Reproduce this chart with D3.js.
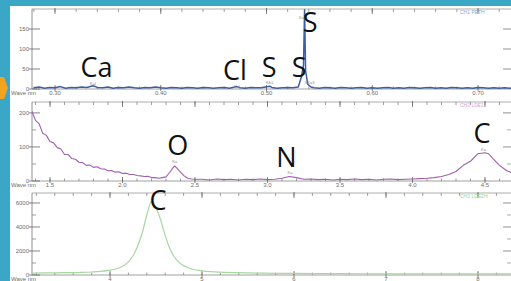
<!DOCTYPE html>
<html lang="en">
<head>
<meta charset="UTF-8">
<title>Spectra</title>
<style>
  body { margin: 0; background: #fff; }
  svg { display: block; font-family: "Liberation Sans", Arial, sans-serif; }
  .tick-label { font-size: 6px; fill: #6e6e6e; }
  .elem { font-family: "Open Sans", sans-serif; font-size: 27px; fill: #111; }
  .line-label { font-size: 4px; fill: #8a8a8a; }
  .chan { font-size: 5px; }
</style>
</head>
<body>
<svg id="chart"></svg>
<script src="https://d3js.org/d3.v7.min.js"></script>
<script>
// --- Channel 1 (PETH) ---
var wave1 = [0.280,0.285,0.290,0.295,0.300,0.305,0.310,0.315,0.320,0.325,
             0.330,0.336,0.340,0.345,0.350,0.355,0.360,0.365,0.370,0.375,
             0.380,0.385,0.390,0.395,0.400,0.405,0.410,0.415,0.420,0.425,
             0.430,0.435,0.440,0.445,0.450,0.455,0.460,0.465,0.472,0.475,
             0.480,0.485,0.490,0.495,0.503,0.505,0.510,0.515,0.520,0.525,
             0.530,0.533,0.535,0.536,0.537,0.539,0.542,0.545,0.550,0.555,
             0.560,0.565,0.570,0.575,0.580,0.585,0.590,0.595,0.600,0.605,
             0.610,0.615,0.620,0.625,0.630,0.635,0.640,0.645,0.650,0.655,
             0.660,0.665,0.670,0.675,0.680,0.685,0.690,0.695,0.700,0.705,
             0.710,0.715,0.720,0.725,0.730,0.735];
var counts1 = [3,5,2,4,3,6,2,4,3,5,
               4,8,4,3,5,2,4,3,5,3,
               2,4,3,5,3,2,4,3,2,4,
               3,2,4,3,2,3,4,2,6,3,
               2,4,3,3,7,4,2,3,4,3,
               5,30,60,198,45,12,5,3,2,4,
               3,2,4,3,2,3,4,2,3,2,
               3,4,2,3,2,4,3,2,3,4,
               2,3,2,4,3,2,3,2,4,3,
               2,3,2,3,2,3];
var xTicks1 = [0.30, 0.40, 0.50, 0.60, 0.70];
var xLabels1 = ["0.30", "0.40", "0.50", "0.60", "0.70"];
var yTicks1 = [0, 50, 100, 150];
var elems1 = ["Ca", "Cl", "S", "S", "S"];
var elemWave1 = [0.336, 0.472, 0.503, 0.536, 0.536];
var lines1 = ["KaI", "KaI", "Kb1", "SKa3", "Ka"];

// --- Channel 2 (LDE1) ---
var wave2 = [1.375,1.400,1.425,1.450,1.475,1.500,1.525,1.550,1.575,1.600,
             1.625,1.650,1.675,1.700,1.725,1.750,1.775,1.800,1.825,1.850,
             1.875,1.900,1.925,1.950,1.975,2.000,2.025,2.050,2.075,2.100,
             2.125,2.150,2.175,2.200,2.225,2.250,2.275,2.300,2.325,2.350,
             2.360,2.375,2.400,2.425,2.450,2.475,2.500,
             2.55,2.60,2.65,2.70,2.75,2.80,2.85,2.90,2.95,3.00,
             3.05,3.10,3.15,3.20,3.25,3.30,3.35,3.40,3.45,3.50,
             3.55,3.60,3.65,3.70,3.75,3.80,3.85,3.90,3.95,4.00,
             4.05,4.10,4.15,4.20,4.25,4.30,4.35,4.40,4.45,4.50,
             4.525,4.55,4.60,4.65,4.70];
var counts2 = [205,178,168,140,134,116,112,98,94,78,
               78,66,64,55,54,46,47,40,42,36,
               35,30,31,26,27,22,23,19,19,16,
               15,13,14,10,10,8,10,12,25,40,
               44,38,26,15,8,6,5,
               5,3,6,4,5,3,5,4,6,4,
               5,8,13,10,5,6,4,5,3,5,
               4,6,4,5,3,5,6,4,5,6,
               7,8,10,13,19,28,46,58,80,83,
               80,68,46,30,22];
var xTicks2 = [1.5, 2.0, 2.5, 3.0, 3.5, 4.0, 4.5];
var xLabels2 = ["1.5", "2.0", "2.5", "3.0", "3.5", "4.0", "4.5"];
var yTicks2 = [0, 100, 200];
var elems2 = ["O", "N", "C"];
var elemWave2 = [2.36, 3.155, 4.49];
var lines2 = ["Ka", "Ka", "Ka"];

// --- Channel 3 (LDE2H) ---
var wave3 = [3.15,3.30,3.50,3.70,3.80,3.90,4.00,4.05,4.10,4.15,
             4.20,4.25,4.30,4.35,4.40,4.45,4.50,4.55,4.60,4.65,
             4.70,4.75,4.80,4.85,4.90,5.00,5.10,5.20,5.40,5.60,
             5.80,6.00,6.50,7.00,7.50,8.00,8.40];
var counts3 = [150,170,190,220,250,300,400,480,600,800,
               1100,1600,2400,3500,5000,6100,5600,4600,3300,2200,
               1500,1050,780,600,480,350,280,240,190,160,
               140,130,110,100,95,90,90];
var xTicks3 = [4, 5, 6, 7, 8];
var xLabels3 = ["4", "5", "6", "7", "8"];
var yTicks3 = [0, 2000, 4000, 6000];
var elems3 = ["C"];
var elemWave3 = [4.45];
var lines3 = [""];

var width = 511, height = 281;
var left = 32, right = 511;

var svg = d3.select("#chart").attr("width", width).attr("height", height);

// slide background
svg.append("rect").attr("width", width).attr("height", height).attr("fill", "#3ba7c6");
svg.append("rect").attr("x", 10).attr("y", 6).attr("width", width - 10).attr("height", height - 6).attr("fill", "#fff");
svg.append("path").attr("d", "M0,77 L4,77 L8,88 L4,99 L0,99 Z").attr("fill", "#f2a31f");

var panels = [
    { top: 9, bottom: 89, xd: [0.30, 0.70], xr: [55, 478], ymax: 200,
      wave: wave1, counts: counts1, xTicks: xTicks1, xLabels: xLabels1, yTicks: yTicks1, yMinor: [],
      minorStep: 0.02, minorFrom: 0.28, minorTo: 0.73,
      color: "#3f5e9e", sw: 1.5, curve: d3.curveLinear,
      chan: "CH1 PETH", chanColor: "#8ea6cc",
      elems: elems1, elemWave: elemWave1, lines: lines1,
      // [elem dx, elem baseline, line-label dx, line-label baseline]
      layout: [[3.5, 77, 0, 85], [-2, 80, 0, 88], [-0.5, 77, 0, 84], [-5.5, 77, 5, 84], [5.5, 32, -3, 19]] },
    { top: 102, bottom: 181, xd: [1.5, 4.5], xr: [50, 485], ymax: 232,
      wave: wave2, counts: counts2, xTicks: xTicks2, xLabels: xLabels2, yTicks: yTicks2, yMinor: [50, 150],
      minorStep: 0.1, minorFrom: 1.4, minorTo: 4.65,
      color: "#a15fae", sw: 1.1, curve: d3.curveLinear,
      chan: "CH2 LDE1", chanColor: "#d9a2d9",
      elems: elems2, elemWave: elemWave2, lines: lines2,
      layout: [[3, 155, 0, 163], [-3.5, 167, 0, 174], [-1.5, 143, 0, 151]] },
    { top: 193, bottom: 275, xd: [4, 8], xr: [110, 478], ymax: 6833,
      wave: wave3, counts: counts3, xTicks: xTicks3, xLabels: xLabels3, yTicks: yTicks3, yMinor: [1000, 3000, 5000],
      minorStep: 0.2, minorFrom: 3.2, minorTo: 8.35,
      color: "#a6d8a0", sw: 1.2, curve: d3.curveMonotoneX,
      chan: "CH3 LDE2H", chanColor: "#98d695",
      elems: elems3, elemWave: elemWave3, lines: lines3,
      layout: [[6.5, 210, 0, 0]] }
];

panels.forEach(function (p, i) {
    var x = d3.scaleLinear().domain(p.xd).range(p.xr);
    var y = d3.scaleLinear().domain([0, p.ymax]).range([p.bottom, p.top]);
    var g = svg.append("g");

    svg.append("clipPath").attr("id", "clip" + i)
        .append("rect").attr("x", left).attr("y", p.top - 2)
        .attr("width", right - left).attr("height", p.bottom - p.top + 3);

    // frame
    g.append("line").attr("x1", left).attr("x2", right).attr("y1", p.top).attr("y2", p.top)
        .attr("stroke", "#9a9a9a").attr("stroke-width", 0.8);
    g.append("line").attr("x1", left).attr("x2", left).attr("y1", p.top).attr("y2", p.bottom)
        .attr("stroke", "#777").attr("stroke-width", 0.8);
    g.append("line").attr("x1", left).attr("x2", right).attr("y1", p.bottom).attr("y2", p.bottom)
        .attr("stroke", "#888").attr("stroke-width", 0.8);

    // x ticks on top and bottom
    var minor = d3.range(p.minorFrom, p.minorTo, p.minorStep);
    minor.forEach(function (v) {
        var px = x(v);
        if (px < left + 1 || px > right) return;
        g.append("line").attr("x1", px).attr("x2", px).attr("y1", p.top).attr("y2", p.top + 3)
            .attr("stroke", "#777").attr("stroke-width", 0.7);
        g.append("line").attr("x1", px).attr("x2", px).attr("y1", p.bottom).attr("y2", p.bottom - 2.5)
            .attr("stroke", "#777").attr("stroke-width", 0.7);
    });
    p.xTicks.forEach(function (v, k) {
        var px = x(v);
        g.append("line").attr("x1", px).attr("x2", px).attr("y1", p.top - 1).attr("y2", p.top + 5)
            .attr("stroke", "#666").attr("stroke-width", 0.8);
        g.append("line").attr("x1", px).attr("x2", px).attr("y1", p.bottom + 2).attr("y2", p.bottom - 4)
            .attr("stroke", "#666").attr("stroke-width", 0.8);
        g.append("text").attr("class", "tick-label").attr("x", px).attr("y", p.bottom + 6)
            .attr("text-anchor", "middle").text(p.xLabels[k]);
    });
    g.append("text").attr("class", "tick-label").attr("x", 11).attr("y", p.bottom + 6).text("Wave nm");

    // y ticks
    p.yTicks.forEach(function (v) {
        var py = y(v);
        g.append("line").attr("x1", left - 3).attr("x2", left + 8).attr("y1", py).attr("y2", py)
            .attr("stroke", "#666").attr("stroke-width", 0.8);
        if (v > 0) {
            g.append("line").attr("x1", right - 8).attr("x2", right).attr("y1", py).attr("y2", py)
                .attr("stroke", "#777").attr("stroke-width", 0.8);
        }
        g.append("text").attr("class", "tick-label").attr("x", left - 3).attr("y", py + 2)
            .attr("text-anchor", "end").text(v);
    });
    p.yMinor.forEach(function (v) {
        var py = y(v);
        g.append("line").attr("x1", left).attr("x2", left + 4).attr("y1", py).attr("y2", py)
            .attr("stroke", "#777").attr("stroke-width", 0.7);
        g.append("line").attr("x1", right - 4).attr("x2", right).attr("y1", py).attr("y2", py)
            .attr("stroke", "#888").attr("stroke-width", 0.7);
    });

    // channel name
    g.append("text").attr("class", "chan").attr("x", 460).attr("y", p.top + 5)
        .attr("fill", p.chanColor).text(p.chan);

    // spectrum
    var line = d3.line()
        .x(function (d, k) { return x(p.wave[k]); })
        .y(function (d) { return y(d); })
        .curve(p.curve);
    g.append("path").datum(p.counts)
        .attr("clip-path", "url(#clip" + i + ")")
        .attr("fill", "none").attr("stroke", p.color)
        .attr("stroke-width", p.sw).attr("stroke-linejoin", "round")
        .attr("d", line);

    // peak labels
    p.elems.forEach(function (el, k) {
        var px = x(p.elemWave[k]), lay = p.layout[k];
        if (p.lines[k]) {
            g.append("text").attr("class", "line-label").attr("x", px + lay[2]).attr("y", lay[3])
                .attr("text-anchor", "middle").text(p.lines[k]);
        }
        g.append("text").attr("class", "elem").attr("x", px + lay[0]).attr("y", lay[1])
            .attr("text-anchor", "middle").text(el);
    });
});
</script>
</body>
</html>
